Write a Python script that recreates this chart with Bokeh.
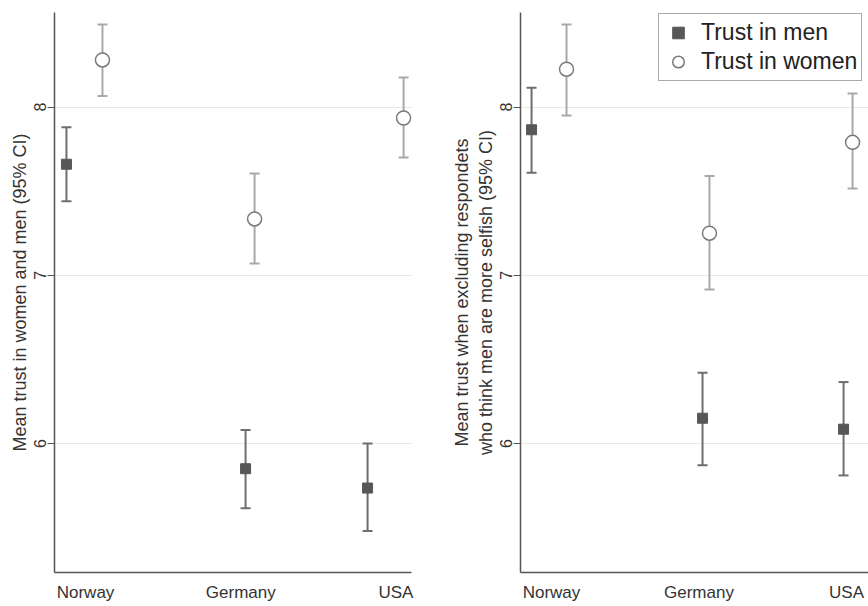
import math
from bokeh.plotting import figure
from bokeh.models import Range1d, FixedTicker, Legend, LegendItem
from bokeh.layouts import row
from bokeh.embed import file_html
from bokeh.resources import INLINE

# ---------------- data ----------------
countries = ["Norway", "Germany", "USA"]
country_pos = [1, 2, 3]
y_ticks = [6, 7, 8]

# left panel: all respondents
men_x_all = [0.877, 2.031, 2.817]
men_all = [7.66, 5.85, 5.735]
men_all_lo = [7.44, 5.615, 5.48]
men_all_hi = [7.88, 6.08, 6.00]
women_x_all = [1.109, 2.089, 3.049]
women_all = [8.28, 7.335, 7.935]
women_all_lo = [8.065, 7.07, 7.70]
women_all_hi = [8.49, 7.605, 8.175]

# right panel: excluding respondents who think men are more selfish
men_x_ex = [0.865, 2.024, 2.98]
men_ex = [7.865, 6.15, 6.085]
men_ex_lo = [7.61, 5.87, 5.81]
men_ex_hi = [8.115, 6.42, 6.365]
women_x_ex = [1.102, 2.071, 3.041]
women_ex = [8.225, 7.25, 7.79]
women_ex_lo = [7.95, 6.915, 7.515]
women_ex_hi = [8.49, 7.59, 8.08]

Y_MIN, Y_MAX = 5.233, 8.562
FONT = "Liberation Sans"
AXIS_COL = "#555555"
TEXT_COL = "#333333"
MEN_BAR = "#6e6e6e"
MEN_FILL = "#575757"
WOMEN_BAR = "#a9a9a9"
WOMEN_LINE = "#7a7a7a"


def make_panel(width, bl, br, xr, ylabel, mx, m, mlo, mhi, wx, w, wlo, whi):
    p = figure(width=width, height=606, x_range=Range1d(*xr),
               y_range=Range1d(Y_MIN, Y_MAX),
               output_backend="svg", toolbar_location=None,
               min_border_left=bl, min_border_right=br,
               min_border_top=12, min_border_bottom=34)
    p.outline_line_color = None
    p.background_fill_color = "white"
    p.border_fill_color = "white"
    p.xgrid.visible = False
    p.ygrid.ticker = FixedTicker(ticks=y_ticks)
    p.ygrid.grid_line_color = "#e8e8e8"
    p.ygrid.grid_line_width = 1

    xa = p.xaxis[0]
    xa.ticker = FixedTicker(ticks=country_pos)
    xa.major_label_overrides = {c: n for c, n in zip(country_pos, countries)}
    xa.major_tick_in = 0
    xa.major_tick_out = 0
    xa.minor_tick_line_color = None
    xa.axis_line_color = AXIS_COL
    xa.axis_line_width = 1.5
    xa.major_label_text_font = FONT
    xa.major_label_text_font_size = "17px"
    xa.major_label_text_color = TEXT_COL
    xa.major_label_standoff = 10

    ya = p.yaxis[0]
    ya.ticker = FixedTicker(ticks=y_ticks)
    ya.major_tick_in = 0
    ya.major_tick_out = 7
    ya.major_tick_line_color = AXIS_COL
    ya.major_tick_line_width = 1.2
    ya.minor_tick_line_color = None
    ya.axis_line_color = AXIS_COL
    ya.axis_line_width = 1.5
    ya.major_label_orientation = "vertical"
    ya.major_label_text_font = FONT
    ya.major_label_text_font_size = "16px"
    ya.major_label_text_color = TEXT_COL
    ya.major_label_standoff = 1
    ya.axis_label = ylabel
    ya.axis_label_text_font = FONT
    ya.axis_label_text_font_size = "18px"
    ya.axis_label_text_font_style = "normal"
    ya.axis_label_text_color = TEXT_COL
    ya.axis_label_standoff = 2

    # women (hollow circles, light bars)
    p.segment(x0=wx, y0=wlo, x1=wx, y1=whi, line_color=WOMEN_BAR, line_width=2)
    p.scatter(x=wx + wx, y=wlo + whi, marker="dash", size=10,
              line_color=WOMEN_BAR, line_width=2)
    rw = p.scatter(x=wx, y=w, marker="circle", size=14, fill_color="white",
                   line_color=WOMEN_LINE, line_width=1.5)
    # men (filled squares, dark bars)
    p.segment(x0=mx, y0=mlo, x1=mx, y1=mhi, line_color=MEN_BAR, line_width=2)
    p.scatter(x=mx + mx, y=mlo + mhi, marker="dash", size=10,
              line_color=MEN_BAR, line_width=2)
    rm = p.scatter(x=mx, y=m, marker="square", size=10, fill_color=MEN_FILL,
                   line_color=MEN_FILL, line_width=1)
    return p, rm, rw


left, _, _ = make_panel(432, 54, 21, (0.8, 3.1),
                        "Mean trust in women and men (95% CI)",
                        men_x_all, men_all, men_all_lo, men_all_hi,
                        women_x_all, women_all, women_all_lo, women_all_hi)

right, rm, rw = make_panel(436, 88, 0, (0.79, 3.149),
                           "Mean trust when excluding respondets\nwho think men are more selfish (95% CI)",
                           men_x_ex, men_ex, men_ex_lo, men_ex_hi,
                           women_x_ex, women_ex, women_ex_lo, women_ex_hi)

legend = Legend(items=[LegendItem(label="Trust in men", renderers=[rm]),
                       LegendItem(label="Trust in women", renderers=[rw])],
                location=(138, 491))
legend.label_text_font = FONT
legend.label_text_font_size = "23px"
legend.label_text_color = "#222222"
legend.glyph_width = 30
legend.glyph_height = 29
legend.label_height = 29
legend.label_standoff = 8
legend.spacing = 0
legend.padding = 4
legend.margin = 0
legend.border_line_color = AXIS_COL
legend.border_line_width = 1.5
legend.background_fill_color = "white"
legend.background_fill_alpha = 1
right.add_layout(legend, "center")

layout = row(left, right)
open("out.html", "w").write(file_html(layout, INLINE))
